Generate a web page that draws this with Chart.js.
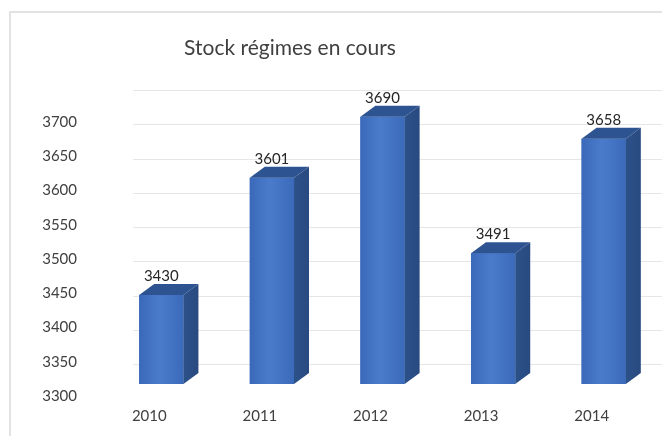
<!DOCTYPE html>
<html>
<head>
<meta charset="utf-8">
<script src="https://cdn.jsdelivr.net/npm/chart.js@4/dist/chart.umd.min.js"></script>
<style>
html,body{margin:0;padding:0;background:#fff;}
#wrap{width:662px;height:436px;position:relative;}
</style>
</head>
<body>
<div id="wrap"><canvas id="c" width="662" height="436"></canvas></div>
<script>
const title = "Stock régimes en cours";
const years = ["2010", "2011", "2012", "2013", "2014"];
const stock = [3430, 3601, 3690, 3491, 3658];
const yMin = 3300, yMax = 3700, yStep = 50;

const FONT = "Lato, 'Open Sans', sans-serif";
const DX = 15, DY = 11;        // bar depth
const WDX = 27, WDY = 20;      // back wall depth

const deco = {
  id: 'deco',
  beforeDraw(chart) {
    const ctx = chart.ctx;
    ctx.save();
    ctx.fillStyle = '#ffffff';
    ctx.fillRect(0, 0, chart.width, chart.height);
    ctx.strokeStyle = '#e2e2e2';
    ctx.lineWidth = 2;
    ctx.beginPath();
    ctx.moveTo(10, chart.height + 5);
    ctx.lineTo(10, 12);
    ctx.lineTo(chart.width + 5, 12);
    ctx.stroke();
    ctx.fillStyle = '#404040';
    ctx.font = '21px ' + FONT;
    ctx.textAlign = 'center';
    ctx.textBaseline = 'middle';
    ctx.fillText(title, 290, 48);
    ctx.restore();
  },
  beforeDatasetsDraw(chart) {
    const ctx = chart.ctx, y = chart.scales.y, a = chart.chartArea;
    ctx.save();
    ctx.strokeStyle = '#e6e6e6';
    ctx.lineWidth = 1.2;
    for (let v = yMin; v <= yMax; v += yStep) {
      const py = Math.round(y.getPixelForValue(v) - WDY) + 0.5;
      ctx.beginPath();
      ctx.moveTo(a.left + WDX, py);
      ctx.lineTo(chart.width, py);
      ctx.stroke();
    }
    ctx.restore();
  },
  afterDatasetsDraw(chart) {
    const ctx = chart.ctx, a = chart.chartArea;
    const meta = chart.getDatasetMeta(0);
    ctx.save();
    meta.data.forEach((bar, i) => {
      const w = bar.width, l = bar.x - w / 2, r = bar.x + w / 2;
      const t = bar.y, b = Math.min(bar.base, a.bottom);
      const g = ctx.createLinearGradient(l, 0, r, 0);
      g.addColorStop(0, '#3b69b9');
      g.addColorStop(0.45, '#4a7bcb');
      g.addColorStop(1, '#3c6aba');
      ctx.fillStyle = g;
      ctx.fillRect(l, t, w, b - t);
      ctx.fillStyle = '#2e5391';
      ctx.beginPath();
      ctx.moveTo(l, t); ctx.lineTo(r, t);
      ctx.lineTo(r + DX, t - DY); ctx.lineTo(l + DX, t - DY);
      ctx.closePath(); ctx.fill();
      const sg = ctx.createLinearGradient(r, 0, r + DX, 0);
      sg.addColorStop(0, '#2c5189');
      sg.addColorStop(1, '#284a80');
      ctx.fillStyle = sg;
      ctx.beginPath();
      ctx.moveTo(r, t); ctx.lineTo(r + DX, t - DY);
      ctx.lineTo(r + DX, b - DY); ctx.lineTo(r, b);
      ctx.closePath(); ctx.fill();
      ctx.fillStyle = '#262626';
      ctx.font = '15px ' + FONT;
      ctx.textAlign = 'center';
      ctx.textBaseline = 'middle';
      ctx.fillText(String(stock[i]), bar.x, t - 19);
    });
    ctx.restore();
  }
};

new Chart(document.getElementById('c'), {
  type: 'bar',
  data: {
    labels: years,
    datasets: [{
      data: stock,
      backgroundColor: '#4070c0',
      borderWidth: 0,
      barPercentage: 0.4,
      categoryPercentage: 1.0
    }]
  },
  options: {
    responsive: false,
    animation: false,
    devicePixelRatio: 1,
    layout: { padding: { top: 110, left: 40, right: 3, bottom: 0 } },
    plugins: { legend: { display: false }, title: { display: false }, tooltip: { enabled: false } },
    scales: {
      x: {
        grid: { display: false, drawTicks: false },
        border: { display: false },
        ticks: { color: '#404040', font: { family: FONT, size: 15 }, padding: 23, labelOffset: -12, maxRotation: 0 },
        afterFit: s => { s.height = 52; }
      },
      y: {
        min: yMin, max: yMax,
        grid: { display: false, drawTicks: false },
        border: { display: false },
        ticks: { stepSize: yStep, color: '#404040', font: { family: FONT, size: 15 }, padding: 29, labelOffset: 12,
                 callback: v => String(v) },
        afterFit: s => { s.width = 66; }
      }
    }
  },
  plugins: [deco]
});
</script>
</body>
</html>
